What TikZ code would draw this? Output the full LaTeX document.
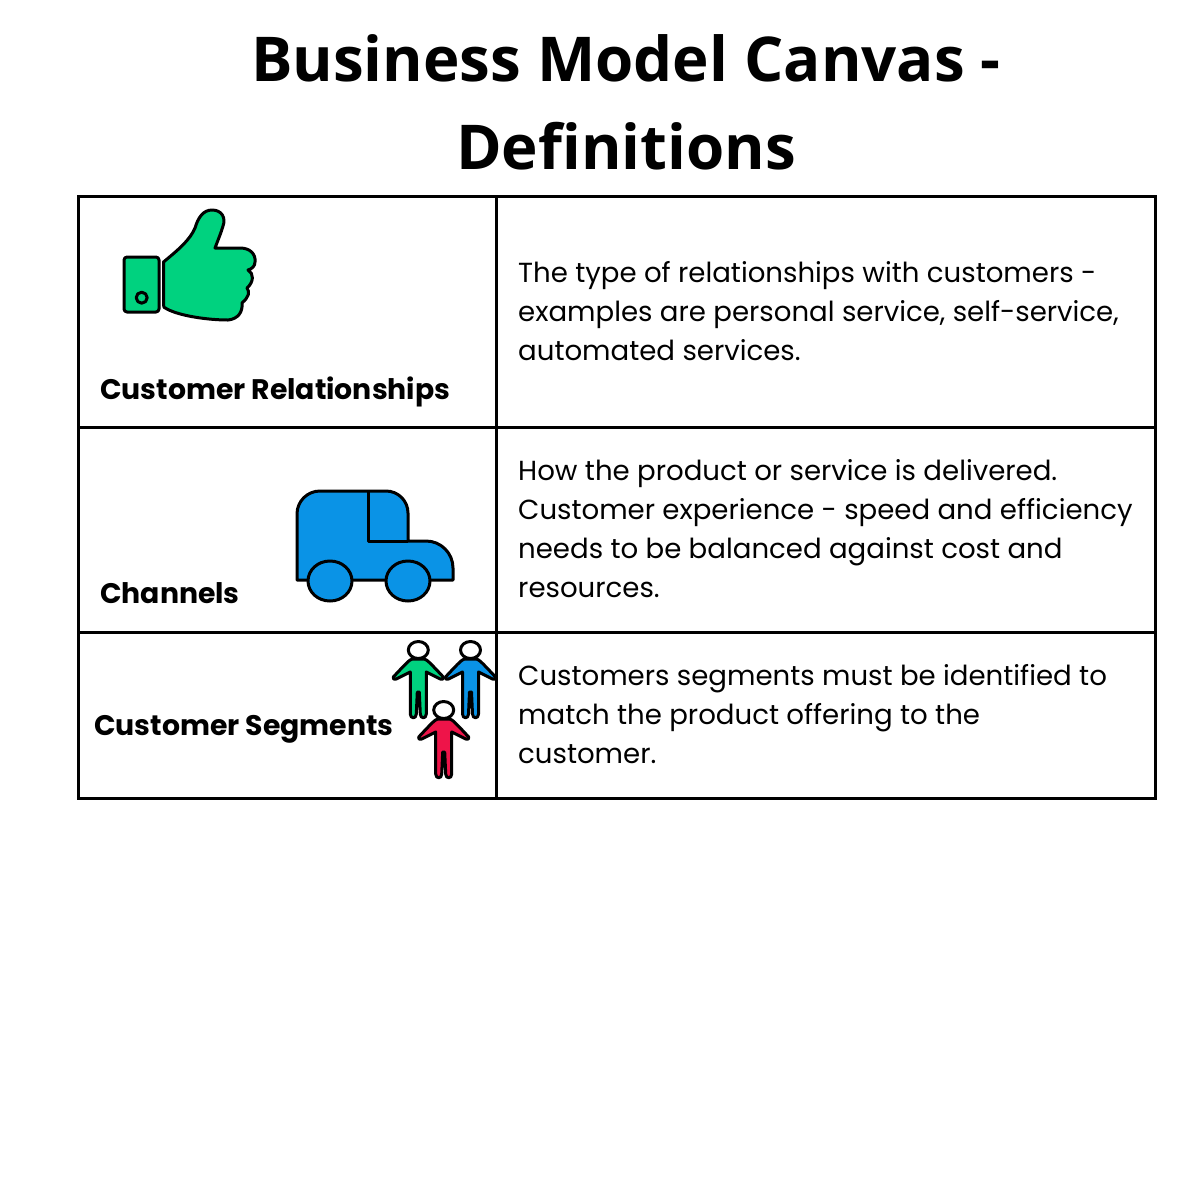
\documentclass[tikz,border=0pt]{standalone}
\usepackage{fontspec}
\setmainfont{Poppins}
\newfontfamily\titlefont{Open Sans}
\usetikzlibrary{positioning}
\definecolor{thumbgreen}{HTML}{00D27F}
\definecolor{vanblue}{HTML}{0A93E6}
\definecolor{segred}{HTML}{EE1449}
\tikzset{
  cell/.style={draw,line width=3pt,minimum height=#1,inner sep=0pt},
  title/.style={font=\titlefont\bfseries\fontsize{61.8}{88}\selectfont,anchor=base},
  heading/.style={font=\bfseries\fontsize{28.3}{34}\selectfont,anchor=base west,inner sep=0pt},
  body/.style={font=\fontsize{27.6}{39}\selectfont,align=left,anchor=north west,inner sep=0pt},
  icon/.style={draw,line width=3pt,line join=round},
  person/.pic={
    \draw[icon,fill=white] (0,0) ellipse [x radius=10,y radius=8.5];
    \draw[icon,pic actions] (-6,9) -- (6,9) .. controls (9,10) and (11,12) .. (25,27)
      .. controls (26,29) and (24,30) .. (22,29) -- (8,22)
      -- (8,64) .. controls (8,69) and (2,69) .. (2,64) -- (1,42) -- (-1,42) -- (-2,64)
      .. controls (-2,69) and (-8,69) .. (-8,64) -- (-8,22) -- (-22,29)
      .. controls (-24,30) and (-26,29) .. (-25,27) .. controls (-11,12) and (-9,10) .. (-6,9) -- cycle;
  }
}
\begin{document}
\begin{tikzpicture}[x=1pt,y=-1pt]
\useasboundingbox (0,0) rectangle (1200,1200);

\node[title] (title1) at (626,81) {Business Model Canvas -};
\node[title] (title2) at (626,169) {Definitions};

% left column
\node[cell=231pt,minimum width=418pt] (rel) at (287,311.5) {};
\node[cell=205pt,minimum width=418pt] (chan) at (287,529.5) {};
\node[cell=166pt,minimum width=418pt] (seg) at (287,715) {};
% right column
\node[cell=231pt,minimum width=659pt] (reltext) at (825.5,311.5) {};
\node[cell=205pt,minimum width=659pt] (chantext) at (825.5,529.5) {};
\node[cell=166pt,minimum width=659pt] (segtext) at (825.5,715) {};

\node[heading] (relhead) at (100,399) {Customer Relationships};
\node[heading] (chanhead) at (100,603) {Channels};
\node[heading] (seghead) at (94,735) {Customer Segments};

\node[body] (reldef) at (518,261) {The type of relationships with customers -\\examples are personal service, self-service,\\automated services.};
\node[body] (chandef) at (518,459) {How the product or service is delivered.\\Customer experience - speed and efficiency\\needs to be balanced against cost and\\resources.};
\node[body] (segdef) at (518,664) {Customers segments must be identified to\\match the product offering to the\\customer.};

% thumb
\draw[icon,fill=thumbgreen,rounded corners=3pt] (124,257) rectangle (159,312);
\draw[icon,fill=thumbgreen] (141.7,297.7) circle (5.5);
\draw[icon,fill=thumbgreen] (163.5,262) .. controls (178,250) and (190,240) .. (195,228)
  .. controls (198,218) and (203,210) .. (212,210) .. controls (222,210) and (226,218) .. (223,226)
  .. controls (221,233) and (218,240) .. (215,248) -- (240,248)
  .. controls (250,248) and (256,254) .. (255,262) .. controls (255,266) and (252,269) .. (248,270)
  .. controls (254,273) and (254,282) .. (247,288) .. controls (250,292) and (249,297) .. (242,303)
  .. controls (243,312) and (238,319) .. (228,320) .. controls (208,320) and (180,316) .. (167,309)
  .. controls (164,308) and (163.5,307) .. (163.5,305) -- cycle;

% van
\draw[icon,fill=vanblue] (297,580) -- (297,514) arc [start angle=180,end angle=270,radius=23]
  -- (386,491) arc [start angle=270,end angle=360,radius=22] -- (408,541) -- (426,541)
  arc [start angle=270,end angle=360,radius=27] -- (453,580) -- cycle;
\draw[icon] (368,491) -- (368,541) -- (408,541);
\draw[icon,fill=vanblue] (330,581) ellipse [x radius=22,y radius=20];
\draw[icon,fill=vanblue] (408,581) ellipse [x radius=22,y radius=20];

% people
\pic[fill=thumbgreen] (pgreen) at (418.3,650) {person};
\pic[fill=vanblue] (pblue) at (470.5,650) {person};
\pic[fill=segred] (pred) at (443.7,710) {person};
\end{tikzpicture}
\end{document}
